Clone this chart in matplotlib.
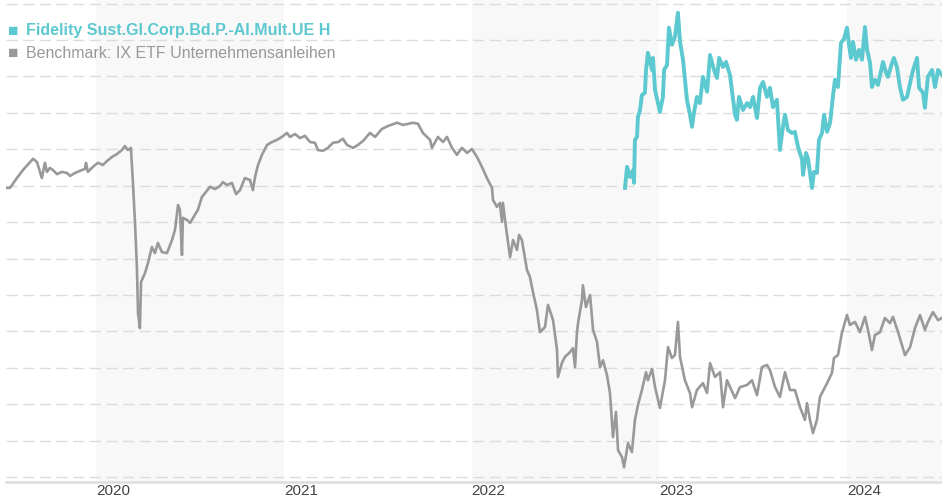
import matplotlib
matplotlib.use("Agg")
import matplotlib.pyplot as plt

# ---------------- data (decimal years, index values) ----------------
bench_t = [2019.524, 2019.542, 2019.579, 2019.611, 2019.649, 2019.665, 2019.686, 2019.712, 2019.728, 2019.739,
           2019.755, 2019.771, 2019.792, 2019.819, 2019.846, 2019.862, 2019.888, 2019.915, 2019.941, 2019.947,
           2019.957, 2019.984, 2020.011, 2020.037, 2020.059, 2020.085, 2020.112, 2020.138, 2020.154, 2020.170,
           2020.186, 2020.197, 2020.208, 2020.218, 2020.224, 2020.234, 2020.240, 2020.261, 2020.277, 2020.298,
           2020.314, 2020.330, 2020.351, 2020.378, 2020.405, 2020.421, 2020.437, 2020.447, 2020.458, 2020.463,
           2020.485, 2020.501, 2020.527, 2020.543, 2020.564, 2020.607, 2020.634, 2020.660, 2020.676, 2020.698,
           2020.724, 2020.746, 2020.767, 2020.793, 2020.820, 2020.836, 2020.847, 2020.863, 2020.884, 2020.911,
           2020.937, 2020.964, 2020.990, 2021.017, 2021.033, 2021.060, 2021.086, 2021.113, 2021.140, 2021.166,
           2021.182, 2021.209, 2021.235, 2021.262, 2021.289, 2021.315, 2021.337, 2021.369, 2021.395, 2021.422,
           2021.459, 2021.486, 2021.523, 2021.555, 2021.603, 2021.635, 2021.688, 2021.715, 2021.741, 2021.779,
           2021.789, 2021.821, 2021.848, 2021.869, 2021.896, 2021.922, 2021.949, 2021.976, 2022.002, 2022.029,
           2022.055, 2022.082, 2022.109, 2022.114, 2022.135, 2022.151, 2022.162, 2022.167, 2022.183, 2022.205,
           2022.221, 2022.242, 2022.253, 2022.268, 2022.295, 2022.311, 2022.327, 2022.348, 2022.364, 2022.391,
           2022.407, 2022.434, 2022.455, 2022.460, 2022.481, 2022.497, 2022.524, 2022.540, 2022.551, 2022.561,
           2022.567, 2022.588, 2022.593, 2022.609, 2022.631, 2022.647, 2022.668, 2022.684, 2022.700, 2022.721,
           2022.737, 2022.753, 2022.769, 2022.780, 2022.801, 2022.812, 2022.833, 2022.854, 2022.870, 2022.886,
           2022.907, 2022.929, 2022.939, 2022.961, 2022.977, 2023.003, 2023.030, 2023.046, 2023.067, 2023.083,
           2023.099, 2023.110, 2023.136, 2023.163, 2023.174, 2023.200, 2023.232, 2023.254, 2023.270, 2023.296,
           2023.323, 2023.339, 2023.360, 2023.403, 2023.429, 2023.467, 2023.493, 2023.520, 2023.546, 2023.573,
           2023.589, 2023.616, 2023.642, 2023.669, 2023.696, 2023.722, 2023.749, 2023.775, 2023.786, 2023.802,
           2023.818, 2023.839, 2023.855, 2023.893, 2023.919, 2023.930, 2023.951, 2023.972, 2023.999, 2024.015,
           2024.042, 2024.068, 2024.095, 2024.111, 2024.132, 2024.148, 2024.175, 2024.201, 2024.228, 2024.244,
           2024.271, 2024.308, 2024.335, 2024.361, 2024.388, 2024.414, 2024.430, 2024.457, 2024.484, 2024.505]
bench_v = [79.4, 79.4, 82.1, 84.3, 86.5, 87.4, 86.5, 82.1, 86.3, 83.8,
           84.9, 84.3, 83.2, 83.8, 83.5, 82.7, 83.5, 84.1, 84.6, 86.3,
           83.8, 85.2, 86.3, 85.7, 86.8, 87.9, 88.7, 89.8, 90.9, 89.8,
           90.4, 80.8, 69.8, 57.7, 45.1, 40.9, 53.6, 56.0, 58.8, 63.2,
           61.5, 64.3, 61.8, 61.5, 65.1, 67.9, 74.7, 73.4, 61.0, 71.2,
           70.6, 69.8, 72.0, 73.4, 76.9, 79.7, 79.1, 79.9, 81.0, 80.2,
           80.8, 77.7, 78.8, 82.1, 81.6, 78.8, 82.4, 85.7, 88.5, 91.2,
           92.0, 92.6, 93.4, 94.5, 93.4, 94.2, 93.1, 93.7, 92.0, 91.8,
           89.8, 89.6, 90.4, 91.8, 92.0, 92.9, 91.2, 90.4, 91.2, 92.3,
           94.5, 93.4, 95.6, 96.4, 97.3, 96.7, 97.3, 97.0, 94.5, 92.6,
           90.4, 93.4, 92.0, 93.4, 90.4, 88.5, 90.4, 89.0, 90.1, 87.9,
           85.2, 82.1, 79.4, 76.1, 74.2, 75.3, 70.1, 75.3, 68.7, 60.4,
           65.1, 62.4, 66.5, 65.1, 56.9, 54.9, 50.8, 45.9, 39.8, 41.2,
           47.3, 43.1, 34.9, 27.5, 31.3, 33.0, 34.3, 35.4, 30.2, 39.6,
           42.3, 48.6, 52.7, 46.7, 50.0, 40.4, 37.1, 30.2, 32.1, 28.0,
           23.1, 11.0, 17.9, 7.4, 5.5, 2.7, 9.3, 6.9, 15.7, 19.8,
           23.9, 28.8, 26.6, 29.7, 24.7, 19.0, 26.6, 35.7, 32.7, 33.5,
           42.6, 33.0, 26.6, 23.1, 19.2, 23.9, 25.8, 23.1, 31.3, 27.5,
           28.8, 19.2, 26.6, 21.7, 24.7, 25.3, 26.6, 22.5, 30.2, 30.8,
           29.4, 24.7, 22.0, 28.8, 23.9, 23.9, 19.2, 15.7, 20.3, 15.7,
           12.1, 15.7, 22.0, 25.8, 28.6, 32.7, 33.5, 39.6, 44.5, 41.8,
           42.6, 39.8, 44.0, 40.4, 34.9, 39.0, 39.8, 43.7, 42.3, 44.0,
           39.8, 33.5, 35.7, 40.9, 44.5, 40.4, 42.6, 45.3, 43.1, 43.7]

fund_t = [2022.817, 2022.828, 2022.844, 2022.860, 2022.865, 2022.870, 2022.881, 2022.886, 2022.897, 2022.907,
          2022.923, 2022.929, 2022.939, 2022.961, 2022.966, 2022.977, 2023.003, 2023.019, 2023.025, 2023.041,
          2023.051, 2023.067, 2023.083, 2023.099, 2023.110, 2023.126, 2023.147, 2023.163, 2023.174, 2023.184,
          2023.200, 2023.216, 2023.232, 2023.254, 2023.270, 2023.291, 2023.307, 2023.318, 2023.339, 2023.355,
          2023.376, 2023.403, 2023.413, 2023.424, 2023.445, 2023.467, 2023.483, 2023.499, 2023.520, 2023.536,
          2023.552, 2023.573, 2023.589, 2023.605, 2023.626, 2023.642, 2023.658, 2023.669, 2023.685, 2023.706,
          2023.722, 2023.738, 2023.760, 2023.765, 2023.781, 2023.791, 2023.813, 2023.823, 2023.839, 2023.850,
          2023.866, 2023.877, 2023.893, 2023.909, 2023.925, 2023.935, 2023.951, 2023.967, 2023.983, 2023.999,
          2024.010, 2024.020, 2024.031, 2024.047, 2024.063, 2024.079, 2024.095, 2024.106, 2024.122, 2024.132,
          2024.148, 2024.164, 2024.191, 2024.207, 2024.217, 2024.239, 2024.249, 2024.265, 2024.281, 2024.297,
          2024.319, 2024.335, 2024.351, 2024.372, 2024.383, 2024.404, 2024.414, 2024.430, 2024.452, 2024.468,
          2024.484, 2024.505]
fund_v = [79.4, 85.2, 82.4, 84.3, 80.8, 92.6, 93.4, 98.9, 100.8, 104.9,
          105.5, 111.8, 116.5, 111.8, 115.1, 106.3, 100.3, 104.4, 111.8, 113.2,
          123.4, 118.7, 120.9, 127.5, 119.5, 114.6, 103.6, 99.5, 96.2, 100.0,
          104.4, 102.7, 109.9, 105.8, 115.9, 111.8, 109.6, 115.1, 112.6, 114.0,
          110.4, 99.5, 98.1, 104.4, 100.8, 102.7, 101.6, 104.4, 98.6, 106.9,
          108.5, 104.4, 106.9, 101.6, 103.6, 89.8, 96.2, 99.5, 95.3, 94.5,
          94.8, 90.7, 87.1, 83.0, 89.0, 87.6, 79.4, 83.8, 83.5, 92.6,
          94.5, 99.5, 94.8, 97.3, 104.9, 109.1, 107.1, 119.2, 120.3, 123.4,
          118.7, 115.1, 119.5, 114.6, 117.3, 114.6, 123.6, 117.3, 113.7, 107.1,
          109.1, 107.7, 114.0, 111.0, 109.9, 113.7, 115.1, 112.6, 107.1, 103.6,
          104.4, 108.2, 111.8, 115.1, 106.9, 105.5, 101.4, 109.9, 111.8, 107.1,
          111.8, 110.4]

years = [2020, 2021, 2022, 2023, 2024]
year_labels = ["2020", "2021", "2022", "2023", "2024"]
shaded_years = [2020, 2022, 2024]

fund_name = "Fidelity Sust.Gl.Corp.Bd.P.-Al.Mult.UE H"
bench_name = "Benchmark: IX ETF Unternehmensanleihen"

# ---------------- style ----------------
FUND_COLOR = "#5cc8cf"
BENCH_COLOR = "#999999"
plt.rcParams["font.family"] = ["Liberation Sans", "DejaVu Sans"]

fig = plt.figure(figsize=(9.42, 5.0), dpi=100)
ax = fig.add_axes([6 / 942, 18.5 / 500, 936 / 942, 481.5 / 500])

x_start, x_end = bench_t[0] - 0.003, bench_t[-1]
ax.set_xlim(x_start, x_end)
ax.set_ylim(-1.2, 131.0)

for y0 in shaded_years:
    ax.axvspan(y0, min(y0 + 1, x_end), color="#f8f8f8", lw=0, zorder=0)

for gv in range(0, 131, 10):
    ax.axhline(gv, color="#dcdcdc", lw=1.0, ls=(0, (8, 4)), zorder=1)

ax.plot(bench_t, bench_v, color=BENCH_COLOR, lw=1.9, zorder=3, solid_joinstyle="round")
ax.plot(fund_t, fund_v, color=FUND_COLOR, lw=2.8, zorder=4, solid_joinstyle="round")

for s in ["top", "right", "left"]:
    ax.spines[s].set_visible(False)
ax.spines["bottom"].set_color("#e0e0e0")
ax.spines["bottom"].set_linewidth(2)
ax.set_yticks([])
ax.set_xticks(years)
ax.set_xticklabels(year_labels, ha="left", fontsize=11, color="#444444")
ax.tick_params(axis="x", length=0, pad=2)

# legend (text in the top-left corner)
fig.text(8 / 942, 1 - 31 / 500, "\u25A0", color=FUND_COLOR, fontsize=12.5, va="center", ha="left")
fig.text(26 / 942, 1 - 31 / 500, fund_name, color=FUND_COLOR, fontsize=11.5,
         fontweight="bold", va="center", ha="left")
fig.text(8 / 942, 1 - 53 / 500, "\u25A0", color=BENCH_COLOR, fontsize=12.5, va="center", ha="left")
fig.text(26 / 942, 1 - 53 / 500, bench_name, color=BENCH_COLOR, fontsize=11.5,
         va="center", ha="left")

fig.savefig("out.png", dpi=100)
